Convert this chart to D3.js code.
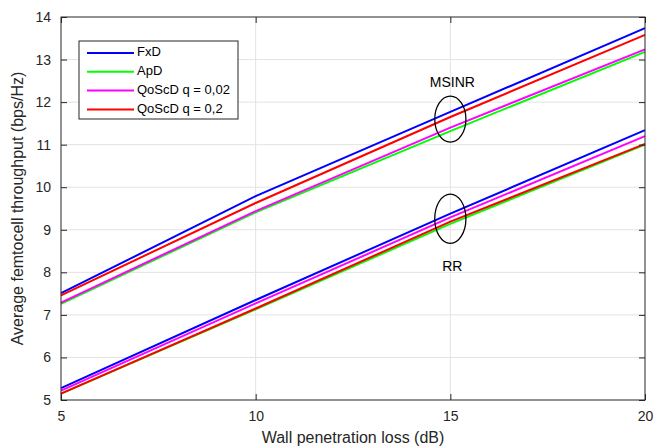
<!DOCTYPE html>
<html>
<head>
<meta charset="utf-8">
<script src="https://cdn.jsdelivr.net/npm/d3@7"></script>
<style>
  body { margin: 0; background: #fff; }
  text { font-family: "Liberation Sans", Arial, sans-serif; }
</style>
</head>
<body>
<div id="chart"></div>
<script>
// data
var lossDb = [5, 10, 15, 20];
var seriesNames = ["FxD", "ApD", "QoScD q = 0,02", "QoScD q = 0,2"];
var seriesColors = ["#0000ff", "#00ff00", "#ff00ff", "#ff0000"];
// MSINR scheduler
var msinrFxD  = [7.51, 9.79, 11.77, 13.74];
var msinrApD  = [7.26, 9.41, 11.32, 13.18];
var msinrQ002 = [7.29, 9.44, 11.40, 13.24];
var msinrQ02  = [7.46, 9.63, 11.65, 13.58];
// RR scheduler
var rrFxD  = [5.28, 7.35, 9.38, 11.34];
var rrApD  = [5.15, 7.13, 9.14, 11.00];
var rrQ002 = [5.22, 7.27, 9.29, 11.20];
var rrQ02  = [5.15, 7.15, 9.19, 11.02];
var xTicks = [5, 10, 15, 20];
var yTicks = [5, 6, 7, 8, 9, 10, 11, 12, 13, 14];
// ellipse annotations
var groupNotes = [
  {label: "MSINR", x: 15, y: 11.6, rx: 0.4, ry: 0.54, labelY: 12.45},
  {label: "RR", x: 15, y: 9.26, rx: 0.4, ry: 0.58, labelY: 8.12}
];

var width = 665, height = 448;
var margin = {top: 17, right: 20, bottom: 48, left: 61};
var w = width - margin.left - margin.right,
    h = height - margin.top - margin.bottom;

var svg = d3.select("#chart").append("svg")
  .attr("width", width).attr("height", height);
var g = svg.append("g")
  .attr("transform", `translate(${margin.left},${margin.top})`);

var x = d3.scaleLinear().domain([5, 20]).range([0, w]);
var y = d3.scaleLinear().domain([5, 14]).range([h, 0]);

// grid
g.append("g").selectAll("line").data(xTicks.slice(1, -1)).enter().append("line")
  .attr("x1", d => x(d)).attr("x2", d => x(d)).attr("y1", 0).attr("y2", h)
  .attr("stroke", "#e3e3e3").attr("stroke-width", 1);
g.append("g").selectAll("line").data(yTicks.slice(1, -1)).enter().append("line")
  .attr("y1", d => y(d)).attr("y2", d => y(d)).attr("x1", 0).attr("x2", w)
  .attr("stroke", "#e3e3e3").attr("stroke-width", 1);

// lines
var groups = [
  [msinrFxD, msinrApD, msinrQ002, msinrQ02],
  [rrFxD, rrApD, rrQ002, rrQ02]
];
var line = d3.line().x((d, i) => x(lossDb[i])).y(d => y(d));
groups.forEach(function(set) {
  set.forEach(function(vals, k) {
    g.append("path").datum(vals)
      .attr("d", line)
      .attr("fill", "none")
      .attr("stroke", seriesColors[k])
      .attr("stroke-width", 2);
  });
});

// axes (box with inward ticks)
var axisColor = "#262626";
function styleAxis(sel) {
  sel.select(".domain").remove();
  sel.selectAll(".tick line").attr("stroke", axisColor);
  sel.selectAll(".tick text").attr("fill", axisColor).style("font-size", "14px")
    .style("font-family", "'Liberation Sans', Arial, sans-serif");
}
g.append("g").attr("transform", `translate(0,${h})`)
  .call(d3.axisBottom(x).tickValues(xTicks).tickSize(-6).tickPadding(11))
  .call(styleAxis);
g.append("g")
  .call(d3.axisLeft(y).tickValues(yTicks).tickSize(-6).tickPadding(10))
  .call(styleAxis);
g.append("g")
  .call(d3.axisTop(x).tickValues(xTicks).tickSize(-6).tickFormat(""))
  .call(styleAxis);
g.append("g").attr("transform", `translate(${w},0)`)
  .call(d3.axisRight(y).tickValues(yTicks).tickSize(-6).tickFormat(""))
  .call(styleAxis);
g.append("rect").attr("x", 0).attr("y", 0).attr("width", w).attr("height", h)
  .attr("fill", "none").attr("stroke", axisColor).attr("stroke-width", 1);

// ellipses and group labels
groupNotes.forEach(function(n) {
  var cx = x(n.x), cy = y(n.y);
  g.append("ellipse")
    .attr("cx", cx).attr("cy", cy)
    .attr("rx", x(n.x + n.rx) - cx).attr("ry", y(n.y - n.ry) - cy)
    .attr("fill", "none").attr("stroke", "#000").attr("stroke-width", 1.3);
  g.append("text")
    .attr("x", cx + 2).attr("y", y(n.labelY))
    .attr("text-anchor", "middle").attr("dominant-baseline", "middle")
    .style("font-size", "14px").attr("fill", "#000")
    .text(n.label);
});

// axis titles
svg.append("text")
  .attr("x", margin.left + w / 2).attr("y", 443)
  .attr("text-anchor", "middle").style("font-size", "16px").attr("fill", axisColor)
  .text("Wall penetration loss (dB)");
svg.append("text")
  .attr("transform", `translate(23,${margin.top + h / 2}) rotate(-90)`)
  .attr("text-anchor", "middle").style("font-size", "16px").attr("fill", axisColor)
  .text("Average femtocell throughput (bps/Hz)");

// legend
var leg = g.append("g").attr("transform", "translate(18,24)");
leg.append("rect").attr("x", 0).attr("y", 0).attr("width", 159).attr("height", 78)
  .attr("fill", "#fff").attr("stroke", axisColor).attr("stroke-width", 1);
seriesNames.forEach(function(name, k) {
  var ly = 12 + k * 18.8;
  leg.append("line").attr("x1", 8).attr("x2", 55).attr("y1", ly).attr("y2", ly)
    .attr("stroke", seriesColors[k]).attr("stroke-width", 2);
  leg.append("text").attr("x", 58).attr("y", ly).attr("dominant-baseline", "middle")
    .style("font-size", "13px").attr("fill", "#000").text(name);
});
</script>
</body>
</html>
